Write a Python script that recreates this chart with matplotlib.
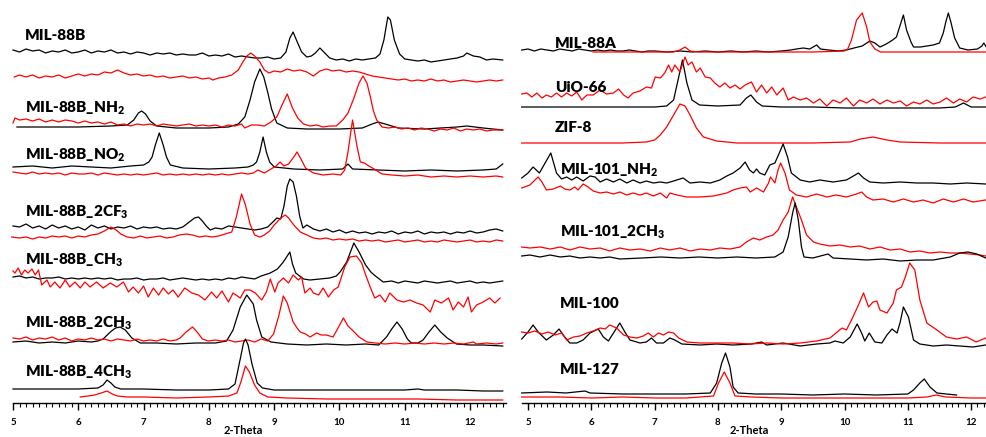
import numpy as np
import matplotlib
matplotlib.use('Agg')
import matplotlib.pyplot as plt
from matplotlib.ticker import MultipleLocator

# ---------------- data: (2-theta, intensity above own baseline) ----------------
# left panel
mil88b_k = [(5.0,5),(5.1,3),(5.2,6),(5.3,4),(5.4,5),(5.5,2),(5.6,4),(5.7,3),(5.8,5),(5.9,2),(6.0,3),(6.1,5),(6.2,2),(6.3,4),
            (6.4,3),(6.5,5),(6.6,2),(6.7,3),(6.8,1),(6.9,3),(7.0,2),(7.1,0),(7.2,2),(7.3,1),(7.4,2),(7.5,0),(7.6,1),(7.7,0),
            (7.8,0),(7.9,2),(8.0,-1),(8.1,0),(8.2,-1),(8.3,1),(8.4,-2),(8.5,-1),(8.6,-2),(8.7,-3),(8.8,-3),(8.9,-2),(9.0,-4),
            (9.1,-3),(9.18,3),(9.24,17),(9.29,23),(9.34,15),(9.42,3),(9.5,-2),(9.57,-1),(9.63,2),(9.7,7),(9.76,3),(9.85,-3),
            (9.95,-5),(10.05,-4),(10.15,-6),(10.25,-4),(10.35,-5),(10.45,-4),(10.55,-3),(10.62,1),(10.68,15),(10.74,38),
            (10.78,35),(10.84,15),(10.92,1),(11.0,-4),(11.1,-5),(11.2,-6),(11.3,-5),(11.4,-7),(11.5,-6),(11.6,-5),(11.7,-4),
            (11.8,-3),(11.9,-1),(11.95,2),(12.05,-1),(12.15,-2),(12.25,-5),(12.35,-4),(12.5,-5)]
mil88b_r = [(5.02,0),(5.1,2),(5.2,0),(5.3,2),(5.4,-1),(5.5,1),(5.6,0),(5.7,2),(5.8,-1),(5.9,1),(6.0,3),(6.1,1),(6.2,3),(6.3,2),
            (6.4,5),(6.5,4),(6.6,7),(6.7,4),(6.8,2),(6.9,3),(7.0,1),(7.1,2),(7.2,0),(7.3,1),(7.4,-1),(7.5,0),(7.6,1),(7.7,-1),
            (7.8,0),(7.9,-2),(8.0,-1),(8.06,-3),(8.15,-1),(8.25,0),(8.35,2),(8.45,7),(8.52,15),(8.58,21),(8.64,24),(8.7,21),
            (8.78,15),(8.85,7),(8.92,4),(9.0,6),(9.1,5),(9.2,8),(9.3,6),(9.4,7),(9.5,5),(9.6,1),(9.7,6),(9.8,8),(9.9,6),
            (10.0,7),(10.1,5),(10.2,6),(10.3,5),(10.4,3),(10.5,1),(10.6,0),(10.7,-1),(10.8,-2),(10.9,-3),(11.0,-2),(11.1,-4),
            (11.2,-3),(11.3,-4),(11.4,-2),(11.5,-4),(11.6,-3),(11.7,-5),(11.8,-4),(11.9,-3),(12.0,-4),(12.1,-5),(12.2,-4),
            (12.3,-3),(12.4,-4),(12.5,-3)]
nh2_k = [(5.06,0),(5.5,0),(6.0,0),(6.5,1),(6.75,2),(6.85,7),(6.92,14),(6.97,16),(7.03,13),(7.1,6),(7.2,1),(7.5,-1),(8.0,-1),
         (8.3,0),(8.45,3),(8.55,10),(8.63,27),(8.7,45),(8.78,58),(8.84,50),(8.9,35),(8.96,18),(9.04,4),(9.2,-1),(9.5,-2),
         (10.0,-2),(10.35,-1),(10.5,3),(10.59,5),(10.7,3),(10.9,-1),(11.3,-2),(11.8,0),(11.95,1),(12.2,-1),(12.5,-3)]
nh2_r = [(5.0,0),(5.03,5),(5.1,3),(5.2,4),(5.3,2),(5.4,4),(5.5,1),(5.6,3),(5.7,1),(5.8,3),(5.9,2),(6.0,0),(6.1,2),(6.2,0),
         (6.3,1),(6.4,-1),(6.5,1),(6.6,-2),(6.7,-1),(6.8,-3),(6.9,-1),(7.0,-2),(7.1,-1),(7.2,-3),(7.3,-1),(7.4,-2),(7.5,-3),
         (7.6,-2),(7.7,-1),(7.8,-3),(7.9,-2),(8.0,-3),(8.1,-2),(8.2,-4),(8.3,-2),(8.4,-3),(8.5,-1),(8.55,-5),(8.65,-2),
         (8.75,-2),(8.85,-3),(8.95,1),(9.04,6),(9.12,18),(9.2,29),(9.28,15),(9.36,5),(9.45,-1),(9.55,-3),(9.65,-2),(9.75,-4),
         (9.85,-3),(9.95,-3),(10.05,3),(10.13,10),(10.21,23),(10.3,40),(10.36,47),(10.42,40),(10.47,27),(10.52,12),
         (10.57,3),(10.65,-4),(10.75,-5),(10.85,-4),(10.95,-6),(11.05,-5),(11.15,-7),(11.25,-5),(11.35,-6),(11.45,-8),
         (11.55,-6),(11.65,-7),(11.75,-5),(11.85,-8),(11.95,-6),(12.05,-7),(12.15,-6),(12.25,-8),(12.35,-7),(12.5,-7)]
no2_k = [(5.0,0),(5.3,1),(5.6,-1),(5.9,1),(6.2,0),(6.5,-1),(6.8,1),(7.0,2),(7.08,5),(7.13,10),(7.18,22),(7.24,34),(7.3,22),
         (7.35,10),(7.41,2),(7.6,-1),(8.0,-2),(8.4,-1),(8.6,0),(8.68,2),(8.73,5),(8.78,15),(8.83,30),(8.88,15),(8.93,5),
         (9.0,0),(9.3,-2),(9.7,-3),(10.05,-2),(10.13,3),(10.2,-2),(10.6,-3),(11.0,-4),(11.4,-3),(11.8,-4),(12.2,-3),
         (12.4,-2),(12.5,3)]
no2_r = [(5.0,0),(5.1,-1),(5.2,-2),(5.3,0),(5.4,-2),(5.5,-1),(5.6,-2),(5.7,-1),(5.8,-3),(5.9,-1),(6.0,-2),(6.1,-2),(6.2,-1),
         (6.3,-3),(6.4,-1),(6.5,-2),(6.6,-3),(6.7,-2),(6.8,-3),(6.9,-2),(7.0,-3),(7.1,-2),(7.2,-1),(7.3,-3),(7.4,-2),
         (7.5,-3),(7.6,-2),(7.7,-3),(7.8,-2),(7.9,-3),(8.0,-2),(8.1,-3),(8.2,-2),(8.3,-3),(8.4,-2),(8.5,-1),(8.6,-2),
         (8.68,-1),(8.75,2),(8.85,-1),(8.95,3),(9.03,6),(9.09,10),(9.15,6),(9.22,8),(9.3,15),(9.35,20),(9.41,13),(9.48,4),
         (9.6,-1),(9.75,-3),(9.9,-2),(10.02,-3),(10.08,2),(10.13,20),(10.2,52),(10.27,25),(10.32,10),(10.38,9),(10.45,6),
         (10.53,3),(10.65,-2),(10.8,-3),(11.0,-4),(11.2,-3),(11.4,-5),(11.6,-4),(11.8,-5),(12.0,-4),(12.2,-5),(12.4,-4),
         (12.5,-5)]
cf3_k = [(5.0,0),(5.1,-1),(5.2,2),(5.3,-2),(5.4,0),(5.5,-3),(5.6,1),(5.7,-2),(5.8,0),(5.9,-3),(6.0,-1),(6.1,-4),(6.2,1),
         (6.3,-2),(6.4,0),(6.5,-3),(6.6,-1),(6.7,-2),(6.8,0),(6.9,-3),(7.0,-1),(7.1,-2),(7.2,-1),(7.3,-3),(7.4,-2),(7.5,-3),
         (7.6,-1),(7.7,4),(7.78,8),(7.84,9),(7.9,5),(7.96,0),(8.02,-4),(8.1,-2),(8.2,-3),(8.3,0),(8.4,-1),(8.5,-2),(8.6,-3),
         (8.7,-4),(8.8,-3),(8.9,-1),(8.98,4),(9.04,8),(9.1,7),(9.15,20),(9.2,40),(9.24,47),(9.29,44),(9.34,30),(9.39,10),
         (9.44,-2),(9.5,1),(9.6,-3),(9.7,-5),(9.8,-3),(9.9,-6),(10.0,-4),(10.1,-7),(10.2,-5),(10.3,-7),(10.4,-6),(10.5,-8),
         (10.6,-6),(10.7,-7),(10.8,-5),(10.9,-8),(11.0,-6),(11.1,-7),(11.2,-5),(11.3,-8),(11.4,-6),(11.5,-7),(11.6,-6),
         (11.7,-8),(11.8,-6),(11.9,-7),(12.0,-5),(12.1,-7),(12.2,-6),(12.3,-4),(12.4,-3),(12.5,-5)]
cf3_r = [(4.98,0),(5.1,-1),(5.2,0),(5.3,-2),(5.4,0),(5.5,-1),(5.6,1),(5.7,0),(5.8,1),(5.9,-1),(6.0,1),(6.1,0),(6.2,2),(6.3,3),
         (6.4,6),(6.5,10),(6.58,7),(6.65,3),(6.75,0),(6.85,-1),(6.95,1),(7.05,-1),(7.15,0),(7.25,1),(7.35,-1),(7.45,0),
         (7.55,2),(7.65,3),(7.75,2),(7.85,0),(7.95,1),(8.05,0),(8.15,1),(8.25,3),(8.35,5),(8.42,20),(8.5,43),(8.56,32),
         (8.63,13),(8.7,2),(8.78,0),(8.85,2),(8.93,6),(9.0,12),(9.1,19),(9.17,22),(9.22,19),(9.3,12),(9.4,5),(9.5,2),(9.6,-1),
         (9.7,-2),(9.8,-1),(9.9,-3),(10.0,-2),(10.1,-3),(10.2,-2),(10.3,-4),(10.4,-3),(10.5,-4),(10.6,-3),(10.7,-5),(10.8,-4),
         (10.9,-3),(11.0,-5),(11.1,-4),(11.2,-3),(11.3,-5),(11.4,-4),(11.5,-5),(11.6,-3),(11.7,-4),(11.8,-5),(11.9,-4),
         (12.0,-3),(12.1,-5),(12.2,-4),(12.3,-5),(12.4,-3),(12.5,-4)]
ch3_k = [(5.0,0),(5.1,1),(5.2,-1),(5.3,0),(5.4,-2),(5.5,-1),(5.6,-1),(5.7,0),(5.8,-2),(5.9,-1),(6.0,-2),(6.1,-1),(6.2,-2),
         (6.3,-1),(6.4,-2),(6.5,-1),(6.6,-3),(6.7,-2),(6.8,-2),(6.9,-1),(7.0,-3),(7.1,-2),(7.2,-2),(7.3,-1),(7.4,-3),(7.5,-2),
         (7.6,-1),(7.7,-2),(7.8,-3),(7.9,-2),(8.0,-3),(8.1,-2),(8.2,-3),(8.3,-1),(8.4,-2),(8.5,0),(8.6,-1),(8.7,-2),(8.8,1),
         (8.94,4),(9.05,8),(9.14,15),(9.24,25),(9.28,13),(9.33,4),(9.45,-2),(9.55,-3),(9.7,-2),(9.85,-1),(9.95,1),(10.01,5),
         (10.11,15),(10.22,34),(10.3,25),(10.4,12),(10.48,5),(10.55,1),(10.67,-5),(10.8,-4),(10.9,-6),(11.0,-4),(11.1,-5),
         (11.2,-6),(11.3,-4),(11.4,-5),(11.5,-6),(11.6,-5),(11.7,-4),(11.8,-6),(11.9,-5),(12.0,-4),(12.1,-6),(12.2,-5),
         (12.3,-6),(12.4,-5),(12.5,-4)]
ch3_r = [(5.0,1),(5.03,-1),(5.08,4),(5.13,-3),(5.18,2),(5.23,-1),(5.29,3),(5.34,-3),(5.39,2),(5.44,-13),(5.52,-8),(5.57,-15),
         (5.64,-10),(5.72,-16),(5.8,-8),(5.87,-15),(5.95,-10),(6.03,-16),(6.1,-10),(6.18,-15),(6.28,-10),(6.38,-16),
         (6.49,-11),(6.59,-15),(6.69,-10),(6.77,-20),(6.84,-15),(6.92,-21),(7.0,-14),(7.07,-25),(7.15,-16),(7.23,-23),
         (7.3,-16),(7.38,-22),(7.45,-18),(7.53,-25),(7.63,-16),(7.74,-21),(7.84,-23),(7.94,-28),(8.04,-20),(8.12,-26),
         (8.2,-19),(8.3,-30),(8.37,-21),(8.48,-26),(8.55,-18),(8.63,-18),(8.71,-21),(8.81,-28),(8.88,-20),(8.94,-7),
         (9.01,-20),(9.06,-11),(9.14,-6),(9.22,-11),(9.29,-3),(9.37,-8),(9.42,-5),(9.47,-21),(9.55,-16),(9.6,-21),(9.68,-23),
         (9.75,-16),(9.83,-25),(9.91,-18),(9.98,-15),(10.03,-5),(10.08,5),(10.16,15),(10.26,16),(10.34,9),(10.39,-1),
         (10.47,-15),(10.54,-26),(10.62,-23),(10.7,-30),(10.77,-21),(10.88,-28),(10.98,-30),(11.08,-28),(11.18,-31),
         (11.28,-33),(11.39,-40),(11.46,-28),(11.56,-31),(11.67,-26),(11.74,-38),(11.82,-30),(11.9,-35),(11.97,-25),
         (12.02,-40),(12.1,-33),(12.2,-30),(12.3,-26),(12.38,-31),(12.46,-26)]
ch3x2_k = [(5.0,0),(5.2,1),(5.4,-1),(5.6,0),(5.8,-1),(6.0,1),(6.2,0),(6.3,1),(6.38,3),(6.49,10),(6.57,14),(6.64,15),(6.72,12),
           (6.82,4),(6.95,-1),(7.2,-1),(7.5,-2),(7.8,-1),(8.1,-1),(8.27,1),(8.37,12),(8.48,35),(8.58,47),(8.68,38),(8.73,22),
           (8.81,5),(8.95,0),(9.2,-2),(9.5,-3),(9.8,-2),(10.1,-3),(10.4,-2),(10.6,-3),(10.72,5),(10.8,13),(10.88,20),
           (10.96,13),(11.04,3),(11.1,-1),(11.2,-1),(11.28,2),(11.37,10),(11.46,17),(11.55,10),(11.65,4),(11.79,-2),
           (12.0,-3),(12.2,-3),(12.5,-4)]
ch3x2_r = [(5.0,0),(5.1,-1),(5.2,1),(5.3,-2),(5.4,0),(5.5,-1),(5.6,1),(5.7,-2),(5.8,0),(5.9,-3),(6.0,-1),(6.1,-2),(6.2,0),
           (6.3,-2),(6.4,-1),(6.5,-3),(6.6,-1),(6.7,-2),(6.8,-3),(6.9,-1),(7.0,-3),(7.1,-2),(7.2,-3),(7.3,-1),(7.4,-3),
           (7.5,-2),(7.56,0),(7.65,6),(7.75,11),(7.82,6),(7.9,-1),(7.99,-3),(8.1,-2),(8.2,-3),(8.3,-2),(8.4,-4),(8.5,-3),
           (8.6,-2),(8.7,-4),(8.8,-1),(8.9,-3),(8.99,4),(9.07,22),(9.14,42),(9.2,35),(9.29,16),(9.35,10),(9.4,6),(9.48,4),
           (9.55,1),(9.6,3),(9.65,5),(9.72,3),(9.8,3),(9.9,1),(9.97,9),(10.06,20),(10.13,12),(10.21,7),(10.3,1),(10.42,-4),
           (10.55,-5),(10.7,-6),(10.85,-5),(11.0,-6),(11.15,-5),(11.3,-6),(11.45,-5),(11.6,-6),(11.75,-5),(11.9,-6),
           (12.05,-4),(12.1,-6),(12.25,-5),(12.4,-6),(12.5,-5)]
ch3x4_k = [(5.0,0),(5.5,0),(6.0,0),(6.3,1),(6.38,4),(6.44,9),(6.5,6),(6.56,2),(6.65,0),(7.0,0),(7.5,-1),(8.0,-1),(8.3,0),
           (8.4,5),(8.48,30),(8.53,46),(8.56,50),(8.6,44),(8.66,25),(8.74,6),(8.82,1),(9.0,-1),(9.5,-1),(10.0,-1),(10.5,-1),
           (11.0,-1),(11.2,0),(11.3,-1),(11.8,-1),(12.2,-2),(12.5,-2)]
ch3x4_r = [(6.03,0),(6.15,1),(6.25,2),(6.35,4),(6.44,6),(6.52,3),(6.6,1),(6.75,0),(7.0,0),(7.5,-1),(8.0,0),(8.3,1),(8.43,4),
           (8.49,15),(8.56,31),(8.62,25),(8.7,12),(8.78,4),(8.9,0),(9.2,-1),(9.8,-2),(10.5,-2),(11.2,-2),(11.8,-3),(12.5,-3)]

# right panel
mil88a_k = [(4.9,0),(5.0,1),(5.1,-1),(5.2,1),(5.3,0),(5.4,-1),(5.5,1),(5.6,0),(5.7,-1),(5.8,1),(5.9,0),(6.0,-1),(6.1,0),
            (6.2,-1),(6.3,0),(6.4,-1),(6.5,-1),(6.6,0),(6.7,-1),(6.8,-2),(6.9,-1),(7.0,-1),(7.2,-2),(7.4,-1),(7.6,-2),
            (7.8,-1),(8.0,-2),(8.2,-1),(8.4,-2),(8.6,-1),(8.8,-2),(9.0,-1),(9.15,0),(9.24,1),(9.35,2),(9.45,1),(9.56,5),
            (9.62,1),(9.75,0),(9.9,-1),(10.03,0),(10.15,2),(10.28,4),(10.4,9),(10.48,7),(10.56,3),(10.66,6),(10.76,10),
            (10.82,13),(10.88,25),(10.93,35),(10.98,20),(11.05,8),(11.09,3),(11.2,3),(11.3,4),(11.4,5),(11.5,7),(11.56,17),
            (11.6,28),(11.64,37),(11.68,28),(11.74,12),(11.82,2),(11.95,0),(12.1,1),(12.17,4),(12.2,7),(12.24,3)]
mil88a_r = [(6.03,0),(6.5,0),(7.0,0),(7.3,0),(7.4,2),(7.48,5),(7.56,1),(7.7,0),(8.0,0),(8.5,0),(9.0,0),(9.5,0),(10.0,1),
            (10.05,3),(10.11,12),(10.19,32),(10.28,39),(10.35,25),(10.4,10),(10.48,3),(10.57,0),(11.0,0),(11.5,0),(12.24,0)]
uio_k = [(4.9,0),(5.5,0),(6.0,0),(6.5,0),(7.0,0),(7.19,1),(7.3,7),(7.37,27),(7.44,47),(7.51,24),(7.59,7),(7.71,2),(8.0,1),
         (8.35,2),(8.45,9),(8.52,12),(8.61,5),(8.7,1),(9.0,0),(9.5,0),(10.0,-1),(10.5,-1),(11.0,-1),(11.5,-1),(11.75,0),
         (11.88,4),(12.0,0),(12.24,0)]
uio_r = [(4.9,0),(4.98,1),(5.06,-3),(5.14,1),(5.22,-4),(5.29,-1),(5.37,-3),(5.45,1),(5.53,-3),(5.61,1),(5.69,-2),(5.77,2),
         (5.85,-6),(5.93,-1),(6.03,-1),(6.14,4),(6.24,0),(6.35,1),(6.43,5),(6.51,-1),(6.58,-4),(6.66,1),(6.77,3),(6.87,7),
         (6.95,6),(7.01,17),(7.09,16),(7.16,21),(7.22,29),(7.27,22),(7.32,29),(7.4,22),(7.48,37),(7.53,29),(7.59,32),
         (7.66,22),(7.72,26),(7.8,17),(7.88,16),(7.95,11),(8.03,7),(8.11,11),(8.19,6),(8.27,9),(8.35,5),(8.43,9),(8.53,12),
         (8.61,2),(8.69,9),(8.77,1),(8.85,7),(8.93,-1),(9.03,6),(9.11,-6),(9.19,-3),(9.3,-6),(9.4,-4),(9.51,-9),(9.61,-5),
         (9.72,-12),(9.82,-6),(9.93,-9),(10.03,-4),(10.14,-12),(10.24,-6),(10.35,-9),(10.45,-5),(10.56,-10),(10.67,-6),
         (10.77,-9),(10.88,-7),(10.98,-12),(11.09,-8),(11.19,-10),(11.3,-6),(11.4,-10),(11.51,-8),(11.61,-4),(11.72,-9),
         (11.82,-5),(11.93,-8),(12.03,-3),(12.14,-5),(12.23,-3)]
zif_r = [(4.9,0),(5.5,0),(6.0,0),(6.5,0),(6.87,1),(7.0,3),(7.09,8),(7.19,16),(7.3,28),(7.4,39),(7.48,37),(7.56,28),(7.66,15),
         (7.77,6),(7.98,2),(8.3,0),(9.0,0),(9.5,0),(10.09,1),(10.25,4),(10.45,6),(10.67,3),(10.88,1),(11.5,0),(12.24,0)]
nh2_101_k = [(4.9,0),(5.0,5),(5.08,11),(5.18,5),(5.27,15),(5.36,25),(5.45,5),(5.53,-1),(5.61,1),(5.69,-2),(5.77,1),(5.87,-3),
             (5.98,2),(6.06,1),(6.14,-4),(6.24,-1),(6.35,-4),(6.45,-1),(6.56,-5),(6.66,-2),(6.77,-5),(6.87,-3),(6.98,-5),
             (7.09,-4),(7.19,-5),(7.3,-3),(7.45,0),(7.56,-5),(7.72,-4),(7.88,-5),(8.03,-2),(8.14,2),(8.24,5),(8.35,10),
             (8.43,16),(8.5,8),(8.56,5),(8.61,9),(8.66,5),(8.74,3),(8.82,13),(8.9,15),(8.97,25),(9.03,34),(9.1,21),(9.16,5),
             (9.3,-2),(9.45,-4),(9.61,-2),(9.82,-4),(10.03,-2),(10.14,2),(10.22,5),(10.3,0),(10.4,-4),(10.61,-5),(10.88,-4),
             (11.14,-5),(11.4,-5),(11.67,-6),(11.93,-5),(12.23,-6)]
nh2_101_r = [(4.9,0),(5.03,3),(5.11,8),(5.16,11),(5.22,6),(5.29,-2),(5.4,-1),(5.51,2),(5.58,-1),(5.66,-2),(5.74,1),(5.79,-2),
             (5.87,4),(5.95,1),(6.03,-3),(6.14,-5),(6.24,-4),(6.35,-6),(6.45,-4),(6.56,-7),(6.66,-5),(6.77,-7),(6.87,-5),
             (6.98,-8),(7.09,-5),(7.19,-10),(7.24,-5),(7.35,-7),(7.51,-9),(7.72,-9),(7.93,-8),(8.14,-5),(8.24,-2),(8.35,0),
             (8.45,1),(8.51,-4),(8.61,0),(8.72,-4),(8.8,5),(8.83,11),(8.9,5),(8.95,18),(8.99,25),(9.06,15),(9.13,-2),(9.24,-7),
             (9.4,-9),(9.56,-6),(9.72,-9),(9.87,-7),(10.03,-9),(10.19,-6),(10.27,-4),(10.35,-9),(10.45,-12),(10.61,-11),
             (10.77,-14),(10.93,-11),(11.09,-14),(11.24,-12),(11.4,-15),(11.56,-11),(11.72,-14),(11.88,-11),(12.03,-14),
             (12.23,-12)]
ch3_101_r = [(4.9,0),(5.03,-1),(5.19,0),(5.35,-2),(5.51,0),(5.66,-3),(5.82,0),(5.98,-2),(6.14,-1),(6.29,-4),(6.45,-1),
             (6.61,-3),(6.77,-2),(6.93,-4),(7.09,-1),(7.24,-3),(7.4,-1),(7.56,-4),(7.72,-2),(7.88,-3),(8.03,-1),(8.19,-2),
             (8.35,0),(8.45,5),(8.56,9),(8.66,7),(8.77,10),(8.87,12),(8.95,17),(9.03,27),(9.11,35),(9.18,50),(9.24,40),
             (9.32,27),(9.4,12),(9.51,5),(9.61,3),(9.77,1),(9.93,2),(10.09,0),(10.24,1),(10.4,-2),(10.56,0),(10.72,-3),
             (10.88,-2),(11.03,-5),(11.19,-4),(11.35,-6),(11.51,-5),(11.67,-6),(11.82,-6),(11.98,-7),(12.14,-8),(12.23,-9)]
ch3_101_k = [(4.9,0),(5.03,1),(5.19,-1),(5.35,1),(5.51,-1),(5.66,0),(5.82,-2),(5.98,-1),(6.14,-2),(6.29,-1),(6.45,-3),
             (6.8,-2),(7.1,-1),(7.4,-2),(7.7,-1),(8.0,-2),(8.3,-1),(8.6,-2),(8.9,-1),(9.03,4),(9.11,19),(9.18,43),(9.22,53),
             (9.27,36),(9.32,9),(9.36,-1),(9.5,-2),(9.74,2),(9.82,-2),(10.09,-3),(10.35,-4),(10.61,-3),(10.88,-5),(11.14,-4),
             (11.4,-4),(11.67,-1),(11.82,3),(11.95,4),(12.09,2),(12.23,-2)]
mil100_k = [(4.9,0),(5.0,7),(5.08,14),(5.16,7),(5.29,-1),(5.4,4),(5.49,10),(5.58,2),(5.66,-4),(5.77,-4),(5.87,-1),(5.98,6),
            (6.11,10),(6.19,2),(6.27,-2),(6.35,6),(6.45,16),(6.53,7),(6.61,-1),(6.77,-4),(6.87,-3),(6.95,1),(7.03,-4),
            (7.14,-4),(7.24,1),(7.32,-1),(7.43,-5),(7.72,-6),(7.98,-5),(8.24,-6),(8.53,-5),(8.69,-3),(8.77,-6),(9.03,-4),
            (9.3,-7),(9.56,-5),(9.77,-4),(9.85,-2),(9.98,-4),(10.09,2),(10.2,15),(10.27,6),(10.32,-2),(10.39,6),(10.48,-3),
            (10.59,-4),(10.67,4),(10.75,10),(10.83,6),(10.88,17),(10.93,32),(11.01,22),(11.09,-1),(11.19,-5),(11.4,-7),
            (11.61,-6),(11.82,-7),(12.03,-8),(12.23,-6)]
mil100_r = [(4.9,0),(5.0,-1),(5.11,1),(5.22,-2),(5.32,0),(5.43,-3),(5.53,-1),(5.61,-8),(5.72,-5),(5.82,-4),(5.93,-1),(6.03,1),
            (6.14,4),(6.22,3),(6.29,7),(6.4,4),(6.51,-3),(6.61,-5),(6.72,-6),(6.82,-4),(6.9,-1),(6.98,-5),(7.06,-1),(7.14,-3),
            (7.22,0),(7.3,-1),(7.38,-6),(7.51,-10),(7.72,-11),(7.98,-11),(8.24,-11),(8.51,-12),(8.77,-11),(9.03,-12),
            (9.3,-11),(9.56,-9),(9.77,-6),(9.96,4),(10.03,2),(10.11,12),(10.22,27),(10.3,39),(10.38,25),(10.45,30),(10.51,31),
            (10.56,22),(10.67,19),(10.77,29),(10.82,42),(10.9,45),(10.96,55),(11.03,69),(11.11,62),(11.19,32),(11.3,9),
            (11.46,2),(11.61,-5),(11.77,-7),(11.93,-5),(12.08,-10),(12.23,-6)]
mil127_k = [(4.9,0),(5.3,1),(5.6,0),(5.9,2),(5.98,0),(6.5,-1),(7.0,-1),(7.5,-1),(7.88,0),(7.98,10),(8.06,30),(8.12,40),
            (8.19,26),(8.24,6),(8.32,0),(8.6,-1),(9.0,-1),(9.5,-2),(10.0,-1),(10.5,-2),(11.0,-1),(11.09,3),(11.19,10),
            (11.26,14),(11.35,6),(11.46,0),(11.61,-1),(11.77,-2)]
mil127_r = [(4.9,0),(5.5,0),(6.0,-1),(6.5,0),(7.0,-1),(7.5,-1),(7.93,1),(8.01,14),(8.1,25),(8.19,14),(8.27,1),(8.53,0),
            (9.0,-1),(9.5,-1),(10.0,-1),(10.5,-1),(11.0,-1),(11.3,0),(11.45,2),(11.6,0),(12.0,-1),(12.23,-1)]

left_names = ['MIL-88B', 'MIL-88B_NH$_2$', 'MIL-88B_NO$_2$', 'MIL-88B_2CF$_3$', 'MIL-88B_CH$_3$',
              'MIL-88B_2CH$_3$', 'MIL-88B_4CH$_3$']
right_names = ['MIL-88A', 'UiO-66', 'ZIF-8', 'MIL-101_NH$_2$', 'MIL-101_2CH$_3$', 'MIL-100', 'MIL-127']

# trace, colour, baseline height (stacking, axis units = px above the x axis)
left_traces = [(mil88b_k, 'k', 348), (mil88b_r, 'r', 326), (nh2_k, 'k', 276), (nh2_r, 'r', 280),
               (no2_k, 'k', 236), (no2_r, 'r', 231), (cf3_k, 'k', 177), (cf3_r, 'r', 166),
               (ch3_k, 'k', 126), (ch3_r, 'r', 131), (ch3x2_k, 'k', 61), (ch3x2_r, 'r', 65),
               (ch3x4_k, 'k', 14), (ch3x4_r, 'r', 6)]
right_traces = [(mil88a_k, 'k', 353), (mil88a_r, 'r', 351), (uio_k, 'k', 296), (uio_r, 'r', 309),
                (zif_r, 'r', 260), (nh2_101_k, 'k', 225), (nh2_101_r, 'r', 215),
                (ch3_101_r, 'r', 156), (ch3_101_k, 'k', 147), (mil100_k, 'k', 64), (mil100_r, 'r', 71),
                (mil127_k, 'k', 10), (mil127_r, 'r', 6)]
left_label_y = [35, 108, 155, 212, 260, 323, 372]
right_label_y = [43, 88, 128, 170, 232, 303, 370]

plt.rcParams['font.family'] = ['Lato', 'DejaVu Sans']
plt.rcParams['font.weight'] = 'bold'
plt.rcParams['mathtext.fontset'] = 'custom'
plt.rcParams['mathtext.rm'] = 'Lato:heavy'
plt.rcParams['mathtext.bf'] = 'Lato:heavy'
plt.rcParams['mathtext.it'] = 'Lato:heavy'
plt.rcParams['mathtext.default'] = 'bf'

W, H = 986, 437
fig = plt.figure(figsize=(W / 100, H / 100), dpi=100)

def make_axes(x0, x1, xlim, traces, lab_x):
    ax = fig.add_axes([x0 / W, 34 / H, (x1 - x0) / W, 403 / H])
    for data, c, base in traces:
        arr = np.array(data, dtype=float)
        ax.plot(arr[:, 0], arr[:, 1] + base, color='#ff0000' if c == 'r' else 'black', lw=0.9, clip_on=False)
    ax.set_xlim(*xlim)
    ax.set_ylim(0, 403)
    for s in ['left', 'right', 'top']:
        ax.spines[s].set_visible(False)
    ax.spines['bottom'].set_linewidth(1.0)
    ax.set_yticks([])
    ax.xaxis.set_major_locator(MultipleLocator(1))
    ax.xaxis.set_minor_locator(MultipleLocator(0.1))
    ax.tick_params(axis='x', which='major', length=5, width=1.0, labelsize=7, pad=6)
    ax.tick_params(axis='x', which='minor', length=3, width=0.8)
    ax.set_xlabel('2-Theta', fontsize=8, fontweight='bold')
    ax.xaxis.set_label_coords(lab_x, -0.055)
    ax.patch.set_alpha(0)
    return ax

axl = make_axes(13, 506, (5.0, 12.55), left_traces, 0.467)
axr = make_axes(522, 986, (4.905, 12.235), right_traces, 0.49)

for name, y in zip(left_names, left_label_y):
    fig.text(25 / W, 1 - y / H, name, fontsize=11, fontweight='heavy', va='center', ha='left')
for i, (name, y) in enumerate(zip(right_names, right_label_y)):
    x = 555 if i < 3 else 560
    fig.text(x / W, 1 - y / H, name, fontsize=11, fontweight='heavy', va='center', ha='left')

fig.savefig('out.png', dpi=100)
